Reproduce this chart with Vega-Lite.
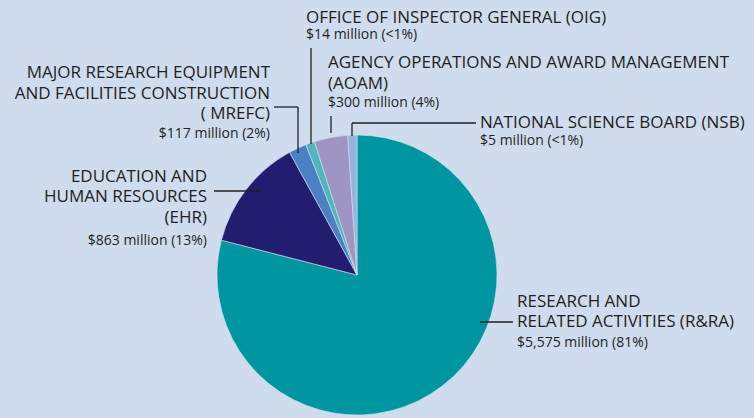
{
  "$schema": "https://vega.github.io/schema/vega-lite/v6.json",
  "width": 754,
  "height": 418,
  "autosize": {"type": "none"},
  "padding": 0,
  "background": "#cfdcee",
  "config": {"view": {"stroke": null}, "axis": {"disable": true}},
  "datasets": {
    "slices": [
      {"program": "R&RA", "amount": 5575, "drawn_share": 79.0, "ord": 1},
      {"program": "EHR", "amount": 863, "drawn_share": 13.0, "ord": 2},
      {"program": "MREFC", "amount": 117, "drawn_share": 2.05, "ord": 3},
      {"program": "OIG", "amount": 14, "drawn_share": 1.03, "ord": 4},
      {"program": "AOAM", "amount": 300, "drawn_share": 3.86, "ord": 5},
      {"program": "NSB", "amount": 5, "drawn_share": 1.06, "ord": 6}
    ],
    "labels": [
      {"text": "OFFICE OF INSPECTOR GENERAL (OIG)", "x": 306, "y": 23, "side": "left", "kind": "title"},
      {"text": "AGENCY OPERATIONS AND AWARD MANAGEMENT", "x": 328, "y": 68, "side": "left", "kind": "title"},
      {"text": "(AOAM)", "x": 328, "y": 89, "side": "left", "kind": "title"},
      {"text": "NATIONAL SCIENCE BOARD (NSB)", "x": 480, "y": 128, "side": "left", "kind": "title"},
      {"text": "RESEARCH AND", "x": 517, "y": 307, "side": "left", "kind": "title"},
      {"text": "RELATED ACTIVITIES (R&RA)", "x": 517, "y": 327, "side": "left", "kind": "title"},
      {"text": "$14 million (<1%)", "x": 306, "y": 39, "side": "left", "kind": "sub"},
      {"text": "$300 million (4%)", "x": 328, "y": 107, "side": "left", "kind": "sub"},
      {"text": "$5 million (<1%)", "x": 480, "y": 145, "side": "left", "kind": "sub"},
      {"text": "$5,575 million (81%)", "x": 517, "y": 347, "side": "left", "kind": "sub"},
      {"text": "MAJOR RESEARCH EQUIPMENT", "x": 270, "y": 78, "side": "right", "kind": "title"},
      {"text": "AND FACILITIES CONSTRUCTION", "x": 270, "y": 99, "side": "right", "kind": "title"},
      {"text": "( MREFC)", "x": 270, "y": 119, "side": "right", "kind": "title"},
      {"text": "EDUCATION AND", "x": 207, "y": 182, "side": "right", "kind": "title"},
      {"text": "HUMAN RESOURCES", "x": 207, "y": 202, "side": "right", "kind": "title"},
      {"text": "(EHR)", "x": 207, "y": 223, "side": "right", "kind": "title"},
      {"text": "$117 million (2%)", "x": 270, "y": 138, "side": "right", "kind": "sub"},
      {"text": "$863 million (13%)", "x": 207, "y": 245, "side": "right", "kind": "sub"}
    ],
    "leaders": [
      {"x": 311, "y": 48, "x2": 311, "y2": 144},
      {"x": 331, "y": 116, "x2": 331, "y2": 133},
      {"x": 274, "y": 107, "x2": 298, "y2": 107},
      {"x": 298, "y": 107, "x2": 298, "y2": 153},
      {"x": 214, "y": 191, "x2": 261, "y2": 191},
      {"x": 480, "y": 322, "x2": 513, "y2": 322},
      {"x": 352, "y": 123, "x2": 476, "y2": 123},
      {"x": 352, "y": 123, "x2": 352, "y2": 136}
    ]
  },
  "layer": [
    {
      "data": {"name": "slices"},
      "mark": {"type": "arc", "outerRadius": 140, "stroke": "#d6e0ef", "strokeWidth": 0.6},
      "encoding": {
        "theta": {"field": "drawn_share", "type": "quantitative", "stack": true},
        "order": {"field": "ord", "type": "quantitative"},
        "color": {
          "field": "program", "type": "nominal", "legend": null,
          "scale": {"domain": ["R&RA", "EHR", "MREFC", "OIG", "AOAM", "NSB"],
                    "range": ["#0096a1", "#221d6e", "#4b80c5", "#4fb6bc", "#9e95c2", "#94b4df"]}
        },
        "x": {"datum": 357, "type": "quantitative", "scale": {"domain": [0, 754], "nice": false, "zero": false}, "axis": null},
        "y": {"datum": 275, "type": "quantitative", "scale": {"domain": [0, 418], "nice": false, "zero": false, "reverse": true}, "axis": null}
      }
    },
    {
      "data": {"name": "leaders"},
      "mark": {"type": "rule", "color": "#231f20", "strokeWidth": 1.3},
      "encoding": {
        "x": {"field": "x", "type": "quantitative"},
        "y": {"field": "y", "type": "quantitative"},
        "x2": {"field": "x2"},
        "y2": {"field": "y2"}
      }
    },
    {
      "data": {"name": "labels"},
      "transform": [{"filter": "datum.side == 'left' && datum.kind == 'title'"}],
      "mark": {"type": "text", "align": "left", "baseline": "alphabetic", "font": "Open Sans", "fontSize": 17, "color": "#231f20"},
      "encoding": {"x": {"field": "x", "type": "quantitative"}, "y": {"field": "y", "type": "quantitative"}, "text": {"field": "text"}}
    },
    {
      "data": {"name": "labels"},
      "transform": [{"filter": "datum.side == 'left' && datum.kind == 'sub'"}],
      "mark": {"type": "text", "align": "left", "baseline": "alphabetic", "font": "Open Sans", "fontSize": 14, "color": "#231f20"},
      "encoding": {"x": {"field": "x", "type": "quantitative"}, "y": {"field": "y", "type": "quantitative"}, "text": {"field": "text"}}
    },
    {
      "data": {"name": "labels"},
      "transform": [{"filter": "datum.side == 'right' && datum.kind == 'title'"}],
      "mark": {"type": "text", "align": "right", "baseline": "alphabetic", "font": "Open Sans", "fontSize": 17, "color": "#231f20"},
      "encoding": {"x": {"field": "x", "type": "quantitative"}, "y": {"field": "y", "type": "quantitative"}, "text": {"field": "text"}}
    },
    {
      "data": {"name": "labels"},
      "transform": [{"filter": "datum.side == 'right' && datum.kind == 'sub'"}],
      "mark": {"type": "text", "align": "right", "baseline": "alphabetic", "font": "Open Sans", "fontSize": 14, "color": "#231f20"},
      "encoding": {"x": {"field": "x", "type": "quantitative"}, "y": {"field": "y", "type": "quantitative"}, "text": {"field": "text"}}
    }
  ]
}
